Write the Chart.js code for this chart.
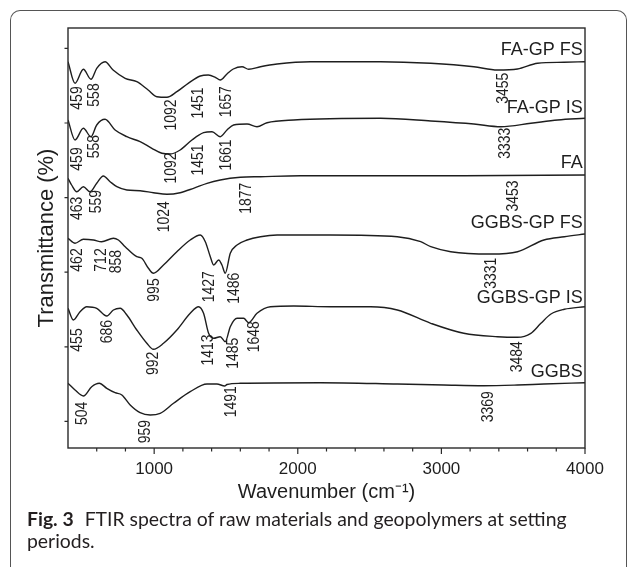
<!DOCTYPE html>
<html>
<head>
<meta charset="utf-8">
<script src="https://cdn.jsdelivr.net/npm/chart.js@4.4.1/dist/chart.umd.min.js"></script>
<style>
html, body { margin: 0; padding: 0; background: #fff; }
body { width: 629px; height: 567px; position: relative; overflow: hidden; }
#frame { position: absolute; left: 10px; top: 10px; width: 617px; height: 620px; border: 1px solid #555; border-bottom: none; border-radius: 10px 10px 0 0; box-sizing: border-box; }
#wrap { position: absolute; left: 0; top: 0; width: 629px; height: 567px; }
#caption { position: absolute; left: 27px; top: 508px; font-family: Lato, "Open Sans", sans-serif; font-size: 19.4px; line-height: 22px; color: #231f20; white-space: nowrap; }
#caption b { font-weight: 700; margin-right: 6px; }
</style>
</head>
<body>
<div id="frame"></div>
<div id="wrap"><canvas id="chartFTIR" width="629" height="567"></canvas></div>
<div id="caption"><b>Fig. 3</b> FTIR spectra of raw materials and geopolymers at setting<br>periods.</div>
<script>
// ==============================
// Data (wavenumber cm-1 / transmittance, offset spectra)
// ==============================
const seriesNames = ['FA-GP FS', 'FA-GP IS', 'FA', 'GGBS-GP FS', 'GGBS-GP IS', 'GGBS'];

const wnFaGpFs = [400,449,507,560,600,658,714,798,879,958,1019,1089,1158,1237,1321,1377,1426,1460,1507,1551,1612,1658,1740,1856,2088,2577,2926,3226,3391,3530,3670,3854,4000];
const tFaGpFs  = [386.3,364.7,378.7,368.7,379.7,386.3,378,369.7,366.3,358,351.3,350.7,356.3,364.7,372,373,370.7,368,374,379,381.3,378.7,381.3,384,386.3,386.3,384.7,381.3,378,379,384.7,385.7,386.3];

const wnFaGpIs = [400,449,507,560,600,658,728,810,902,984,1054,1112,1181,1263,1344,1403,1460,1507,1553,1647,1716,1786,1972,2577,2926,3226,3414,3623,3810,4000];
const tFaGpIs  = [328,308,319.7,311.3,323,328.7,318,311.3,306.3,299.7,294.7,294,298,308,315.3,316.3,311.3,318,323,324,321.3,325.3,328,329.7,327,324,321.3,324.7,328,329.7];

const wnFa = [400,425,461,507,553,600,646,693,740,810,902,995,1089,1181,1274,1368,1460,1600,1740,2019,3158,4000];
const tFa  = [269.7,263,256.3,261.3,256.3,264.7,272,266.3,261.3,258,257.3,255.3,253.7,255.3,259.7,264.7,268,270.7,271.3,272.3,272.3,273];

const wnGgbsGpFs = [400,449,507,577,634,716,751,798,879,914,960,995,1065,1158,1251,1321,1356,1391,1414,1449,1472,1495,1530,1577,1647,1740,1856,2228,2693,2856,2926,3065,3344,3530,3714,3856,4000];
const tGgbsGpFs  = [209.7,204.7,208.7,208,206.3,209.7,208,201.3,191.3,189.7,179.7,174.7,183,196.3,208,213,206.3,191.3,183,188,183,174.7,194.7,203,208,211.3,213,213,211.3,206.3,201.3,196.3,194,196.3,208,211.3,214];

const wnGgbsGpIs = [400,437,484,530,600,670,716,763,810,879,949,995,1065,1158,1251,1309,1344,1379,1414,1460,1495,1530,1577,1623,1658,1716,1809,1972,2228,2507,2693,2926,3156,3391,3530,3623,3693,3763,3856,4000];
const tGgbsGpIs  = [139.7,128,136.3,141.3,139.7,132,138,139.7,133,118,104.7,98.7,104.7,118,134.7,141.3,134.7,114.7,109.7,111.3,106.3,121.3,129.7,129.7,125.3,134.7,141.3,142,141.3,141.3,138,124.7,114.7,111.3,110.7,114.7,124.7,134,138.7,141.3];

const wnGgbs = [400,449,507,565,618,670,728,775,833,902,972,1042,1135,1251,1368,1437,1491,1507,1600,2158,2693,3016,3295,3530,3714,4000];
const tGgbs  = [64.7,58,52,61.3,64.7,59.7,55.3,53,43,35.3,33,34.7,44.7,56.3,64,64,62,63.5,64.7,65.3,64,63,62.3,63,64,65.3];

// axis ticks
const xTickLabels = [1000, 2000, 3000, 4000];
const xMinorTicks = [600,800,1200,1400,1600,1800,2200,2400,2600,2800,3200,3400,3600,3800];
const yTicks = [26.6, 101.2, 175.8, 250.4, 325, 399.6];

// ==============================
// Annotations (text placed in data units)
// ==============================
const peakLabels = [
    ['459', 461, 350], ['558', 577, 353], ['1092', 1112, 333], ['1451', 1298, 345], ['1657', 1495, 346.3], ['3455', 3426, 359.7],
    ['459', 461, 289], ['558', 577, 301.3], ['1092', 1112, 280], ['1451', 1298, 288], ['1661', 1495, 293], ['3333', 3437, 304.7],
    ['463', 461, 239.7], ['559', 588, 246.3], ['1024', 1065, 231.3], ['1877', 1635, 249.7], ['3453', 3491, 252],
    ['462', 461, 188], ['712', 623, 188], ['858', 728, 186.3], ['995', 995, 158], ['1427', 1379, 161.3], ['1486', 1553, 159.7], ['3331', 3344, 174.7],
    ['455', 461, 108], ['686', 670, 116.3], ['992', 984, 84.7], ['1413', 1368, 98], ['1485', 1542, 94.7], ['1648', 1693, 111.3], ['3484', 3519, 91.3],
    ['504', 496, 34.7], ['959', 930, 16.3], ['1491', 1530, 46.3], ['3369', 3321, 41.3]
];
const nameLabelX = 3985;
const nameLabelY = [398, 339.7, 284.7, 224.7, 149.7, 76.3];

// ==============================
// Helpers
// ==============================
function toPoints(xs, ys) {
    return xs.map((x, i) => ({ x: x, y: ys[i] }));
}

const FONT = '"Liberation Sans", Arial, Helvetica, sans-serif';
const INK = '#1e1e1e';

const spectra = [
    [wnFaGpFs, tFaGpFs], [wnFaGpIs, tFaGpIs], [wnFa, tFa],
    [wnGgbsGpFs, tGgbsGpFs], [wnGgbsGpIs, tGgbsGpIs], [wnGgbs, tGgbs]
];

// ==============================
// Plugin: frame, ticks, labels
// ==============================
const ftirDecor = {
    id: 'ftirDecor',
    afterDraw(chart) {
        const ctx = chart.ctx;
        const xs = chart.scales.x, ys = chart.scales.y;
        const a = chart.chartArea;
        ctx.save();
        ctx.strokeStyle = '#2a2a2a';
        ctx.lineWidth = 1.4;
        ctx.strokeRect(a.left, a.top, a.right - a.left, a.bottom - a.top);

        ctx.lineWidth = 1.2;
        ctx.beginPath();
        xTickLabels.forEach(v => {
            const px = xs.getPixelForValue(v);
            ctx.moveTo(px, a.bottom); ctx.lineTo(px, a.bottom + 6);
        });
        xMinorTicks.forEach(v => {
            const px = xs.getPixelForValue(v);
            ctx.moveTo(px, a.bottom); ctx.lineTo(px, a.bottom + 3.5);
        });
        yTicks.forEach(v => {
            const py = ys.getPixelForValue(v);
            ctx.moveTo(a.left, py); ctx.lineTo(a.left - 3.5, py);
        });
        ctx.stroke();

        // peak numbers (rotated, condensed)
        ctx.fillStyle = INK;
        ctx.font = '17px ' + FONT;
        ctx.textAlign = 'center';
        ctx.textBaseline = 'middle';
        peakLabels.forEach(p => {
            const px = xs.getPixelForValue(p[1]);
            const py = ys.getPixelForValue(p[2]);
            ctx.save();
            ctx.translate(px, py);
            ctx.rotate(-Math.PI / 2);
            ctx.scale(0.82, 1);
            ctx.fillText(p[0], 0, 1);
            ctx.restore();
        });

        // series names
        ctx.font = '18px ' + FONT;
        ctx.textAlign = 'right';
        seriesNames.forEach((n, i) => {
            ctx.fillText(n, xs.getPixelForValue(nameLabelX), ys.getPixelForValue(nameLabelY[i]));
        });
        ctx.restore();
    }
};

// ==============================
// Chart.js
// ==============================
function renderChart() {
    const ctx = document.getElementById('chartFTIR').getContext('2d');
    new Chart(ctx, {
        type: 'line',
        data: {
            datasets: spectra.map((s, i) => ({
                label: seriesNames[i],
                data: toPoints(s[0], s[1]),
                borderColor: INK,
                borderWidth: 1.4,
                pointRadius: 0,
                fill: false,
                cubicInterpolationMode: 'monotone'
            }))
        },
        options: {
            responsive: false,
            animation: false,
            devicePixelRatio: 1,
            layout: { padding: { left: 30, top: 28, right: 44, bottom: 62 } },
            plugins: { legend: { display: false }, tooltip: { enabled: false } },
            scales: {
                x: {
                    type: 'linear',
                    min: 400,
                    max: 4000,
                    afterBuildTicks: scale => { scale.ticks = xTickLabels.map(v => ({ value: v })); },
                    afterFit: scale => { scale.height = 57; },
                    grid: { display: false, drawTicks: false },
                    border: { display: false },
                    ticks: { color: INK, padding: 11, maxRotation: 0, autoSkip: false, font: { family: FONT, size: 17 }, callback: v => String(v) },
                    title: { display: true, text: 'Wavenumber (cm\u207B\u00B9)', color: INK, padding: { top: 0, bottom: 1 }, font: { family: FONT, size: 20 } }
                },
                y: {
                    type: 'linear',
                    min: 0,
                    max: 420,
                    afterFit: scale => { scale.width = 38; },
                    grid: { display: false, drawTicks: false },
                    border: { display: false },
                    ticks: { display: false },
                    title: { display: true, text: 'Transmittance (%)', color: INK, padding: { top: 4, bottom: 0 }, font: { family: FONT, size: 22 } }
                }
            }
        },
        plugins: [ftirDecor]
    });
}

renderChart();
</script>
</body>
</html>
